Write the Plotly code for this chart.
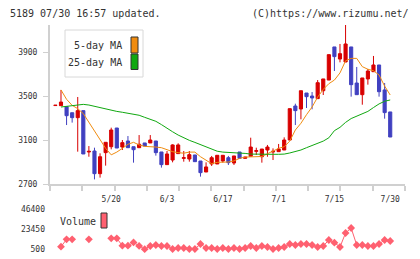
import numpy as np
import plotly.graph_objects as go

# ---------------- data ----------------
dates = ["5/2", "5/7", "5/8", "5/9", "5/12", "5/13", "5/14", "5/15", "5/16", "5/19", "5/20",
         "5/21", "5/22", "5/23", "5/26", "5/27", "5/28", "5/29", "5/30",
         "6/2", "6/3", "6/4", "6/5", "6/6", "6/9", "6/10", "6/11", "6/12", "6/13",
         "6/16", "6/17", "6/18", "6/19", "6/20", "6/23", "6/24", "6/25", "6/26", "6/27", "6/30",
         "7/1", "7/2", "7/3", "7/4", "7/7", "7/8", "7/9", "7/10", "7/11",
         "7/14", "7/15", "7/16", "7/17", "7/18", "7/22", "7/23", "7/24", "7/25",
         "7/28", "7/29", "7/30"]

opens = [3413, 3412, 3403, 3348, 3303, 3367, 2991, 3000, 2794, 2985, 3039,
         3209, 3036, 3091, 3039, 3030, 3073, 3073, 3091, 2991, 2876,
         2918, 2976, 2933, 2927, 2964, 2909, 2809, 2882, 2882, 2909,
         2939, 2891, 2991, 2933, 2952, 2997, 2948, 3009, 2991, 2994,
         3009, 3100, 3409, 3382, 3527, 3500, 3476, 3548, 3645, 3946,
         3836, 3809, 3946, 3618, 3512, 3655, 3721, 3782, 3555, 3355]
highs = [3416, 3555, 3403, 3348, 3491, 3367, 3045, 3030, 2979, 3079, 3212,
         3209, 3100, 3136, 3039, 3145, 3073, 3145, 3091, 2991, 3000,
         3061, 3070, 3000, 3000, 2964, 2909, 2897, 2955, 2961, 2961,
         2955, 2955, 2991, 2945, 3121, 3030, 3018, 3055, 3024, 3064,
         3124, 3385, 3430, 3548, 3527, 3536, 3645, 3655, 3876, 3946,
         3973, 4146, 3946, 3764, 3664, 3746, 3864, 3782, 3618, 3355]
lows = [3413, 3412, 3236, 3258, 2994, 2973, 2948, 2742, 2758, 2867, 3015,
        3027, 3009, 3030, 2894, 3030, 3045, 3073, 2958, 2849, 2876,
        2897, 2976, 2903, 2903, 2903, 2767, 2809, 2864, 2882, 2894,
        2873, 2873, 2933, 2933, 2952, 2964, 2894, 2948, 2918, 2994,
        3009, 3100, 3236, 3288, 3391, 3379, 3476, 3509, 3645, 3727,
        3806, 3809, 3494, 3512, 3421, 3603, 3721, 3494, 3294, 3127]
closes = [3416, 3445, 3321, 3303, 3367, 2973, 2997, 2794, 2948, 3079, 3191,
          3027, 3076, 3030, 3012, 3061, 3045, 3100, 2985, 2876, 2973,
          3055, 3055, 2939, 2967, 2903, 2803, 2855, 2939, 2961, 2961,
          2894, 2955, 2933, 2945, 3036, 3003, 3018, 3036, 2997, 3018,
          3100, 3385, 3367, 3548, 3494, 3482, 3621, 3655, 3876, 3858,
          3885, 3973, 3603, 3512, 3664, 3727, 3782, 3539, 3349, 3127]

ma5 = [None, 3555, 3470, 3415, 3385, 3340, 3262, 3183, 3104, 3025, 2965,
       2990, 3024, 3061, 3079, 3055, 3042, 3042, 3036, 3030, 3009,
       2994, 2985, 2980, 2990, 2990, 2948, 2915, 2885, 2897, 2897,
       2900, 2910, 2933, 2945, 2945, 2948, 2950, 2975, 3000, 3024,
       3039, 3090, 3191, 3252, 3330, 3400, 3490, 3560, 3612, 3645,
       3710, 3820, 3842, 3842, 3767, 3743, 3730, 3691, 3590, 3509]
ma25 = [None, 3400, 3405, 3410, 3418, 3424, 3418, 3405, 3394, 3382, 3370,
        3360, 3352, 3345, 3336, 3325, 3306, 3290, 3270, 3240, 3205,
        3175, 3145, 3118, 3097, 3078, 3058, 3036, 3015, 2998, 2990,
        2988, 2986, 2985, 2978, 2972, 2970, 2970, 2970, 2970, 2970,
        2972, 2982, 2995, 3009, 3030, 3050, 3068, 3090, 3120, 3185,
        3215, 3260, 3295, 3315, 3335, 3360, 3395, 3428, 3452, 3464]
volume = [None, 3140, 11600, 11600, None, None, 11600, None, None, None, 12740,
          12740, 4300, 4300, 8000, 4000, 300, 3940, 5090, 3940, 3940,
          500, 1650, 1650, 500, 500, 6240, 1650, 1650, 500, 1650,
          500, 1650, 500, 1650, 3940, 1650, 3940, 2800, 500, 1650,
          2800, 6240, 5090, 6240, 6240, 5090, 2800, 3940, 10830, 7770,
          2800, 18860, 24600, 5090, 5090, 3940, 3940, 6240, 10830, 9680]

tick_dates = ["5/20", "6/3", "6/17", "7/1", "7/15", "7/30"]
price_ticks = [2700, 3100, 3500, 3900]
vol_ticks = [500, 23450, 46400]

# ---------------- styling ----------------
RED = "#d80000"
BLUE = "#4040c0"
ORANGE = "#f08c10"
GREEN = "#10a810"
VOLC = "#ff6070"
TXT = "#333333"
AX = "#d0d0d0"
FONT = "DejaVu Sans Mono"

x = np.arange(len(dates))
tickvals = [dates.index(d) for d in tick_dates]

W, H = 420, 259
ML, MR, MT, MB = 50, 15, 25, 6
PW, PH = W - ML - MR, H - MT - MB


def px(X):
    return (X - ML) / PW


def py(Y):
    return (H - MB - Y) / PH


main_bottom = py(184)
vol_top = py(205)

fig = go.Figure()
fig.add_trace(go.Candlestick(
    x=x, open=opens, high=highs, low=lows, close=closes,
    increasing=dict(line=dict(color=RED, width=1), fillcolor=RED),
    decreasing=dict(line=dict(color=BLUE, width=1), fillcolor=BLUE),
    whiskerwidth=0, showlegend=False, hoverinfo="skip",
    xaxis="x", yaxis="y"))
fig.add_trace(go.Scatter(x=x, y=ma5, mode="lines", line=dict(color=ORANGE, width=1),
                         showlegend=False, hoverinfo="skip", xaxis="x", yaxis="y"))
fig.add_trace(go.Scatter(x=x, y=ma25, mode="lines", line=dict(color=GREEN, width=1),
                         showlegend=False, hoverinfo="skip", xaxis="x", yaxis="y"))
fig.add_trace(go.Scatter(x=x, y=volume, mode="lines+markers",
                         line=dict(color=VOLC, width=1),
                         marker=dict(symbol="diamond", size=6, color=VOLC),
                         connectgaps=False, cliponaxis=False,
                         showlegend=False, hoverinfo="skip", xaxis="x2", yaxis="y2"))

xr = [-0.97, 62.65]
n_div = 11
d_minor = (xr[1] - 0.01 - (xr[0] + 0.01)) / n_div

fig.update_layout(
    template="none",
    width=W, height=H, margin=dict(l=ML, r=MR, t=MT, b=MB, autoexpand=False),
    paper_bgcolor="white", plot_bgcolor="white",
    font=dict(family=FONT, color=TXT, size=8),
    boxgap=0.2,
    xaxis=dict(range=xr, domain=[0, 1], anchor="y", automargin=False,
               tickvals=tickvals, ticktext=tick_dates, ticks="",
               showgrid=False, zeroline=False,
               showline=True, linecolor=AX, linewidth=2,
               tickfont=dict(size=8, color=TXT), ticklabelstandoff=6,
               rangeslider=dict(visible=False),
               minor=dict(ticks="outside", ticklen=5, tickcolor=AX, tickwidth=2,
                          tick0=xr[0] + 0.01, dtick=d_minor, showgrid=False)),
    yaxis=dict(range=[2700, 2700 + 159 * 400 / 44], domain=[main_bottom, 1], anchor="x",
               automargin=False,
               tickvals=price_ticks, ticks="outside", ticklen=5, tickcolor=AX, tickwidth=1,
               showgrid=False, zeroline=False,
               showline=True, linecolor=AX, linewidth=2,
               tickfont=dict(size=8, color=TXT), ticklabelstandoff=4),
    xaxis2=dict(range=xr, domain=[0, 1], anchor="y2", matches="x", automargin=False,
                showticklabels=False, ticks="", showgrid=False, zeroline=False, showline=False),
    yaxis2=dict(range=[500 - 4 * 1147.5, 46400 + 4 * 1147.5], domain=[0, vol_top], anchor="x2",
                automargin=False,
                tickvals=vol_ticks, ticktext=[str(v) for v in vol_ticks], ticks="",
                showgrid=False, zeroline=False, showline=False,
                tickfont=dict(size=8, color=TXT), ticklabelstandoff=4),
)

shapes = [
    dict(type="rect", xref="paper", yref="paper", x0=px(65), x1=px(143), y0=py(77), y1=py(30),
         line=dict(color="#d8d8d8", width=1), fillcolor="white", layer="above"),
    dict(type="rect", xref="paper", yref="paper", x0=px(131), x1=px(138), y0=py(53), y1=py(37),
         line=dict(color="#333333", width=1), fillcolor=ORANGE, layer="above"),
    dict(type="rect", xref="paper", yref="paper", x0=px(131), x1=px(138), y0=py(69.5), y1=py(54),
         line=dict(color="#333333", width=1), fillcolor=GREEN, layer="above"),
    dict(type="rect", xref="paper", yref="paper", x0=px(101), x1=px(107), y0=py(228), y1=py(213),
         line=dict(color="#333333", width=1), fillcolor=VOLC, layer="above"),
]
fig.update_layout(shapes=shapes)

ann = [
    dict(text="5189 07/30 16:57 updated.", x=px(8), y=py(13), xanchor="left", yanchor="middle",
         font=dict(size=10, color=TXT)),
    dict(text="(C)https://www.rizumu.net/", x=px(411), y=py(13), xanchor="right", yanchor="middle",
         font=dict(size=10, color=TXT)),
    dict(text="5-day MA", x=px(124), y=py(46), xanchor="right", yanchor="middle",
         font=dict(size=10, color=TXT)),
    dict(text="25-day MA", x=px(124), y=py(62.5), xanchor="right", yanchor="middle",
         font=dict(size=10, color=TXT)),
    dict(text="Volume", x=px(58), y=py(221), xanchor="left", yanchor="middle",
         font=dict(size=10, color=TXT)),
]
for a in ann:
    a.update(xref="paper", yref="paper", showarrow=False)
fig.update_layout(annotations=ann)

fig.write_html("out.html")
